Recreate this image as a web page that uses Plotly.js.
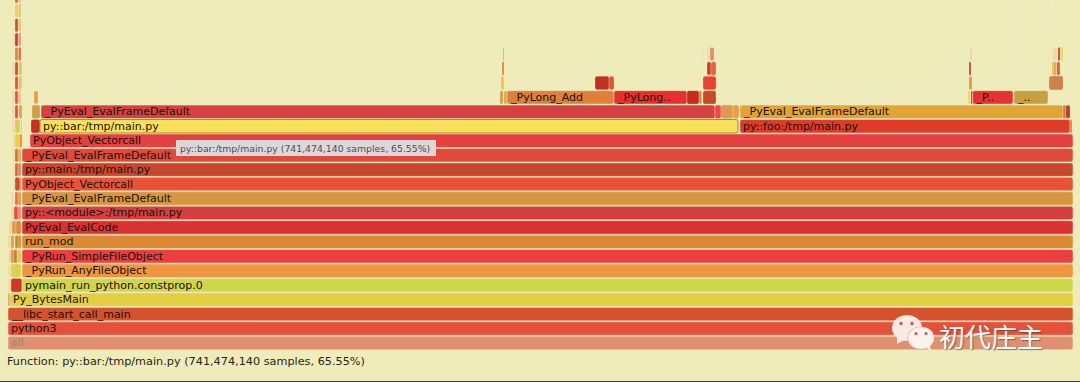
<!DOCTYPE html>
<html>
<head>
<meta charset="utf-8">
<script src="https://cdn.plot.ly/plotly-3.0.1.min.js"></script>
<style>html,body{margin:0;padding:0;background:#eeecba;overflow:hidden}#chart{width:1080px;height:382px}</style>
</head>
<body>
<div id="chart"></div>
<script>
// Flame graph frames, one line per stack depth. Offsets/widths are in sample units (root frame = 1065).
const frameDepths = [
 0,
 1,
 2,
 3,3,
 4,4,4,
 5,5,5,
 6,6,6,6,6,
 7,7,7,7,7,
 8,8,8,8,
 9,9,9,9,
 10,10,10,10,
 11,11,11,11,
 12,12,12,12,
 13,13,13,13,
 14,14,14,14,
 15,15,15,15,15,15,15,
 16,16,16,16,16,16,16,16,16,16,16,
 17,17,17,17,17,17,17,17,17,17,17,17,17,17,17,
 18,18,18,18,18,18,18,18,18,18,18,
 19,19,19,19,19,19,19,19,19,19,19,19,19,
 20,20,20,20,20,20,20,20,20,20,20,20,20,
 21,21,21,21,21,
 22,22,22,22,
 23,23,23,23,
 24,24,24,24
];
const frameStarts = [
 0,
 0,
 0,
 0,2,
 0,3,14,
 0,3,14,
 1,3,6,9,14,
 0,3,7,11,14,
 1,4,8,14,
 3,6,10,14,
 3,7,10,14,
 5,7,12,14,
 5,7,10,14,
 5,7,10,14,
 5,7,11.5,22,
 4,7,13,23,32,732,1062,
 4,7,11,24,33,707,713,725,732,1055,1058,
 4,7,10,26,492,496,499,606,679,691,695,960,963,964.6,1006,1041,
 7,10.5,493,587,601,695,961,1005.5,1040.5,1042,4,
 4,7,10.5,494,699,703,961,1005.5,1040.5,1044,1046,1048.7,1052.7,
 7,10.5,495,694,699,702,962,1005.5,1040.5,1045,1047,1050,5,
 5,7,10.5,1005.5,1040.5,
 7,10.5,1005.5,1040.5,
 7,10.5,1005.5,1040.5,
 7,10.5,1005.5,1040.5
];
const frameWidths = [
 1065,
 1065,
 1065,
 2,1063,
 3,11,1051,
 3,10,1051,
 2,3,3,4,1051,
 3,3,4,2,1051,
 3,4,5,1051,
 3,4,3,1051,
 3,3,3,1051,
 2,5,1.5,1051,
 2,3,3,1051,
 2,3,3,1051,
 2,4.5,2.5,1043,
 3,5,1,9,698,330,2,
 3,3,3,8,674,6,12,6,323,3,4,
 3,3,3,4,3,3,107,73,12,2.6,13,2.5,1.5,40.4,34,14,
 3,3.5,3,14,5,13,3,0.6,0.6,13,3,
 3,3,3.5,2,4,5,2,0.6,0.6,2,2,3.3,2.3,
 3,2.5,1,0.7,2,4,2,0.6,0.6,1.3,1.5,2,2,
 2,3,2.5,0.6,0.6,
 3,2.5,0.6,0.6,
 3,2.5,0.6,0.6,
 3,2.5,0.6,0.6
];
const frameLabels = [
 "all",
 "python3",
 "__libc_start_call_main",
 "","Py_BytesMain",
 "","","pymain_run_python.constprop.0",
 "","","_PyRun_AnyFileObject",
 "","","","","_PyRun_SimpleFileObject",
 "","","","","run_mod",
 "","","","PyEval_EvalCode",
 "","","","py::&lt;module&gt;:/tmp/main.py",
 "","","","_PyEval_EvalFrameDefault",
 "","","","PyObject_Vectorcall",
 "","","","py::main:/tmp/main.py",
 "","","","_PyEval_EvalFrameDefault",
 "","","","PyObject_Vectorcall",
 "","","","","py::bar:/tmp/main.py","py::foo:/tmp/main.py","",
 "","","","","_PyEval_EvalFrameDefault","","","","_PyEval_EvalFrameDefault","","",
 "","","","","","","_PyLong_Add","_PyLong..","","","","","","_P..","_..","",
 "","","","","","","","","","","",
 "","","","","","","","","","","","","",
 "","","","","","","","","","","","","",
 "","","","","",
 "","","","",
 "","","","",
 "","","",""
];
const frameColors = [
 "#e08f70",
 "#e4503a",
 "#d6522c",
 "#dfa565","#e2cf42",
 "#efdc9e","#d0352a","#cfd648",
 "#efdfa0","#d8d450","#ed9540",
 "#ecd090","#d99a4a","#d07a30","#dcc860","#ec3e3e",
 "#eedb9c","#d9a255","#d08a30","#d58a30","#d98a33",
 "#eed8a0","#e09a50","#dc8a3c","#d83232",
 "#eedcb0","#ea5040","#e89060","#d53e42",
 "#eedcb0","#e8703a","#e89a50","#d6953f",
 "#eedcb0","#c85035","#e89060","#ea5238",
 "#eedcb0","#ea6030","#d88a70","#c84530",
 "#eedcb0","#e07030","#e0b060","#e04a3a",
 "#eedcb0","#e8d040","#ee8a50","#e4403f",
 "#eedcb0","#dccc50","#ecc070","#c83020","#f9e05a","#e03a28","#e08040",
 "#eedcb0","#e8543a","#f09a50","#cfa048","#d44242","#ee4848","#da9b4a","#e9a040","#e3a436","#c88048","#c83828",
 "#eedcb0","#e8543a","#eec090","#e8a040","#d89a50","#d0b040","#e08038","#e63030","#c62c1e","#e08040","#c64a25","#f0d860","#c8303a","#e63230","#c4a040","#c84438",
 "#e8543a","#ecc070","#e8c850","#c03220","#e0552f","#ec4030","#e09850","#ebe4bc","#ebe4bc","#d08048","#eedcb0",
 "#eedcb0","#d05028","#dcc860","#d08a40","#d04020","#e8604a","#c84040","#ebe4bc","#ebe4bc","#e0c050","#e8a040","#e06030","#e8d860",
 "#d09040","#ee6050","#dfb060","#edd9b0","#edd9b0","#e09060","#f0d8a0","#ebe4bc","#ebe4bc","#e6d680","#e6d680","#d83a30","#eedcb0",
 "#eedcb0","#e03528","#e09a80","#ebe4bc","#ebe4bc",
 "#d25030","#e8c080","#ebe4bc","#ebe4bc",
 "#ecd050","#e8c080","#ebe4bc","#ebe4bc",
 "#e8603a","#e8c080","#ebe4bc","#ebe4bc"
];
const functionInfo = "py::bar:/tmp/main.py (741,474,140 samples, 65.55%)";
const watermarkText = "初代庄主";

const highlighted = "py::bar:/tmp/main.py";
const textColors = frameLabels.map(l => l === "all" ? "#8f8a70" : "#1a1208");
const lineColors = frameLabels.map(l => l === highlighted ? "#9a8c3c" : "#f1e8c6");
const lineWidths = frameLabels.map(l => l === highlighted ? 1 : (l === "" ? 0.25 : 0.5));

const trace = {
  type: "bar", orientation: "h",
  y: frameDepths, x: frameWidths, base: frameStarts,
  width: 0.93,
  text: frameLabels, textposition: "inside", insidetextanchor: "start",
  textangle: 0, constraintext: "none", cliponaxis: true,
  insidetextfont: {family: "DejaVu Sans", size: 11, color: textColors},
  marker: {color: frameColors, line: {color: lineColors, width: lineWidths}},
  hoverinfo: "skip"
};

const px = v => v / 1080, py = v => 1 - v / 382;
const circle = (cx, cy, rx, ry, fill) => ({type: "circle", xref: "paper", yref: "paper", layer: "above",
  x0: px(cx - rx), x1: px(cx + rx), y0: py(cy + ry), y1: py(cy - ry), fillcolor: fill, line: {width: 0}});
const poly = (pts, fill) => ({type: "path", xref: "paper", yref: "paper", layer: "above",
  path: "M" + pts.map(p => px(p[0]) + "," + py(p[1])).join("L") + "Z", fillcolor: fill, line: {width: 0}});
const rect = (x0, y0, x1, y1, fill) => ({type: "rect", xref: "paper", yref: "paper", layer: "above",
  x0: px(x0), x1: px(x1), y0: py(y1), y1: py(y0), fillcolor: fill, line: {width: 0}});

const layout = {
  width: 1080, height: 382,
  margin: {l: 0, r: 0, t: 0, b: 0, pad: 0},
  paper_bgcolor: "#eeecba", plot_bgcolor: "#eeecba",
  showlegend: false, barmode: "overlay", barcornerradius: 2,
  xaxis: {range: [-8, 1072], visible: false, fixedrange: true},
  yaxis: {range: [-2.70, 23.74], visible: false, fixedrange: true},
  shapes: [
    rect(176, 140, 436, 156, "#dcd8da"),
    poly([[897,336],[897,344],[906,339]], "#fbe9e4"),
    circle(907, 328, 15, 13, "#fbe9e4"),
    circle(901, 323.5, 1.7, 1.7, "#c9584a"),
    circle(912, 323.5, 1.7, 1.7, "#c9584a"),
    circle(921, 338, 13.6, 11.6, "#ee9f8e"),
    poly([[925,347],[931,351],[930,345]], "#fdf1ec"),
    circle(921, 338, 13, 11, "#fdf1ec"),
    circle(916, 333.5, 1.6, 1.6, "#c9584a"),
    circle(926, 333.5, 1.6, 1.6, "#c9584a"),
    rect(0, 381, 1080, 382, "#3a3262")
  ],
  annotations: [
    {xref: "paper", yref: "paper", x: px(178), y: py(148), xanchor: "left", yanchor: "middle", showarrow: false,
     text: functionInfo, font: {family: "DejaVu Sans", size: 9.3, color: "#4f4a52"}},
    {xref: "paper", yref: "paper", x: px(5), y: py(361), xanchor: "left", yanchor: "middle", showarrow: false,
     text: "Function: " + functionInfo, font: {family: "DejaVu Sans", size: 11.25, color: "#2a2418"}},
    {xref: "paper", yref: "paper", x: px(991), y: py(335), xanchor: "center", yanchor: "middle", showarrow: false,
     text: watermarkText, font: {family: "Noto Sans CJK SC", size: 26, color: "#ffffff", shadow: "1px 1px 1px rgba(80,60,40,0.6)"}}
  ]
};
Plotly.newPlot("chart", [trace], layout, {displayModeBar: false, staticPlot: true});
</script>
</body>
</html>
